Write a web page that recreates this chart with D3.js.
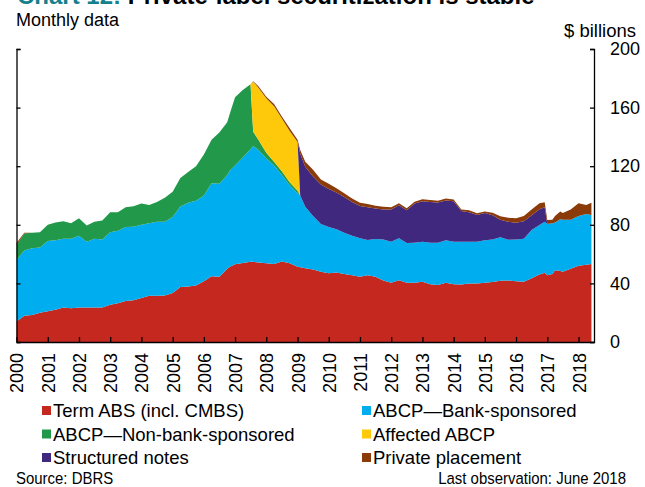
<!DOCTYPE html>
<html>
<head>
<meta charset="utf-8">
<script src="https://cdn.jsdelivr.net/npm/d3@7"></script>
<style>
  body { margin: 0; background: #fff; }
  text { font-family: "Liberation Sans", Arial, sans-serif; fill: #000; }
</style>
</head>
<body>
<svg id="chart" width="645" height="487"></svg>
<script>
// sample months (quarterly, plus the months where the series jump)
var months = [
  "2000-01","2000-04","2000-07","2000-10",
  "2001-01","2001-04","2001-07","2001-10",
  "2002-01","2002-04","2002-07","2002-10",
  "2003-01","2003-04","2003-07","2003-10",
  "2004-01","2004-04","2004-07","2004-10",
  "2005-01","2005-04","2005-07","2005-10",
  "2006-01","2006-04","2006-07","2006-10","2006-11",
  "2007-01","2007-04","2007-07","2007-08","2007-10",
  "2008-01","2008-04","2008-07","2008-10",
  "2009-01","2009-02","2009-04","2009-07","2009-10",
  "2010-01","2010-04","2010-07","2010-10",
  "2011-01","2011-04","2011-07","2011-10",
  "2012-01","2012-04","2012-07","2012-10",
  "2013-01","2013-04","2013-07","2013-10",
  "2014-01","2014-04","2014-07","2014-10",
  "2015-01","2015-04","2015-07","2015-10",
  "2016-01","2016-04","2016-07","2016-10","2016-12",
  "2017-01","2017-03","2017-04","2017-06","2017-07","2017-10",
  "2018-01","2018-04","2018-06"
];

// $ billions
var termABS = [
  14, 18, 18.5, 20,
  21, 22, 23.5, 23,
  23.5, 23.5, 23.5, 23.5,
  25.5, 26.5, 28, 28.5,
  30, 31.6, 31.5, 31.8,
  33.5, 37.5, 37.8, 38.5,
  41.5, 44.8, 44.5, 50, 51.4,
  53, 54, 54.7, 54.7, 54.3,
  53.7, 53.2, 55, 53.7,
  51.4, 51, 50.3, 49.5, 48,
  47, 47.5, 46.5, 45.5,
  44.6, 45.5, 44.5, 42,
  40.5, 42.2, 40.5, 40.5,
  41.2, 39.5, 38.9, 40.5,
  39.5, 39.3, 40, 40,
  40.5, 41, 41.8, 41.9,
  41.5, 41.2, 43.5, 46, 47.3,
  45.5, 46.5, 49, 48.5, 48, 50,
  52, 52.8, 53.2
];
var bankABCP = [
  42, 44.5, 45.5, 44.5,
  48, 47.5, 47, 47.5,
  49, 45, 47, 46.5,
  49.5, 49.5, 50.5, 50.2,
  50, 49.4, 50.5, 50.3,
  51.8, 55, 57.2, 58,
  58.5, 63.5, 63.5, 64, 65.6,
  67.5, 72, 76.8, 79.1, 76.7,
  71.6, 67.3, 59, 53.3,
  50.1, 49, 42.1, 36.5, 32.5,
  31.5, 29.5, 28, 27,
  26.2, 24.1, 25.8, 28,
  28, 28.6, 27.1, 27.3,
  27.3, 28.3, 28.9, 29,
  29, 29.2, 28.5, 28.5,
  29, 29, 29.7, 27.9,
  28.5, 29.3, 33, 33.9, 34.7,
  35, 34.5, 32.5, 35.3, 35.5, 33.5,
  34, 34.6, 33.5
];
var nonBankABCP = [
  10, 11.5, 10.5, 10.5,
  11, 12, 12, 10.5,
  12, 11, 11.5, 13,
  13.5, 12.5, 13.5, 14,
  14.5, 12.5, 13.5, 16.4,
  17.2, 19.5, 21, 23.5,
  28, 29.7, 35, 36, 39,
  46.5, 46, 44.5, 9.7, 7,
  3.9, 2.5, 2.5, 2,
  1.8, 0, 0, 0, 0,
  0, 0, 0, 0,
  0, 0, 0, 0,
  0, 0, 0, 0,
  0, 0, 0, 0,
  0, 0, 0, 0,
  0, 0, 0, 0,
  0, 0, 0, 0, 0,
  0, 0, 0, 0, 0, 0,
  0, 0, 0
];
var affectedABCP = [
  0, 0, 0, 0,
  0, 0, 0, 0,
  0, 0, 0, 0,
  0, 0, 0, 0,
  0, 0, 0, 0,
  0, 0, 0, 0,
  0, 0, 0, 0, 0,
  0, 0, 0, 34.2, 35.5,
  37.1, 38, 36, 35,
  33.2, 0, 0, 0, 0,
  0, 0, 0, 0,
  0, 0, 0, 0,
  0, 0, 0, 0,
  0, 0, 0, 0,
  0, 0, 0, 0,
  0, 0, 0, 0,
  0, 0, 0, 0, 0,
  0, 0, 0, 0, 0, 0,
  0, 0, 0
];
var structuredNotes = [
  0, 0, 0, 0,
  0, 0, 0, 0,
  0, 0, 0, 0,
  0, 0, 0, 0,
  0, 0, 0, 0,
  0, 0, 0, 0,
  0, 0, 0, 0, 0,
  0, 0, 0, 0, 0,
  0, 0, 0, 0,
  0, 28.5, 27.2, 27, 27,
  26, 25, 24.5, 23,
  22, 22.4, 20.9, 20.5,
  22, 22.6, 22.4, 26.7,
  27.5, 27.8, 27.4, 27.1,
  27.5, 21, 20, 18.2,
  18.5, 16.5, 12, 12.2,
  11.4, 12, 10, 10.7, 9.9,
  0, 0, 0, 0, 0, 0,
  0, 0, 0
];
var privatePlacement = [
  1.5, 0.5, 0, 0,
  0, 0, 0, 0,
  0, 0, 0, 0,
  0, 0, 0, 0,
  0, 0, 0, 0,
  0, 0, 0, 0,
  0, 0, 0, 0, 0,
  0, 0, 0, 0.3, 1,
  1.1, 1.5, 1.5, 1.9,
  1.5, 2.5, 3.4, 4.5, 3.5,
  3.5, 3, 2.5, 2.5,
  2.2, 2.2, 1.8, 1.8,
  1.5, 1.3, 1.3, 1.3,
  1.4, 1.3, 1.3, 1.4,
  1.2, 1, 1.5, 1.1,
  1, 1.7, 2.3, 2.8,
  3, 3.5, 4, 4.1, 3.5,
  2.8, 2.5, 4.5, 5.2, 4.5, 7,
  8.7, 6.1, 8.3
];

var seriesNames = ["Term ABS (incl. CMBS)", "ABCP\u2014Bank-sponsored", "ABCP\u2014Non-bank-sponsored",
                   "Affected ABCP", "Structured notes", "Private placement"];
var yTicks = [0, 40, 80, 120, 160, 200];

var keys = ["term", "bank", "nonbank", "affected", "notes", "priv"];
var colors = ["#c4281f", "#00aeef", "#22984a", "#ffc90b", "#41287f", "#8b3a09"];

var svg = d3.select("#chart");
var parseMonth = d3.timeParse("%Y-%m");

var rows = months.map(function(m, i) {
  return {
    date: parseMonth(m),
    term: termABS[i],
    bank: bankABCP[i],
    nonbank: nonBankABCP[i],
    affected: affectedABCP[i],
    notes: structuredNotes[i],
    priv: privatePlacement[i]
  };
});

var x = d3.scaleTime()
  .domain([new Date(2000, 0, 1), new Date(2018, 6, 1)])
  .range([16.5, 594]);
var y = d3.scaleLinear().domain([0, 200]).range([342, 49]);

var stacked = d3.stack().keys(keys)(rows);
var area = d3.area()
  .x(function(d) { return x(d.data.date); })
  .y0(function(d) { return y(d[0]); })
  .y1(function(d) { return y(d[1]); });

svg.append("g").selectAll("path")
  .data(stacked)
  .join("path")
  .attr("d", area)
  .attr("fill", function(d, i) { return colors[i]; });

// axes
var xAxis = d3.axisBottom(x)
  .tickValues(d3.timeYear.range(new Date(2000, 0, 1), new Date(2018, 1, 1)))
  .tickFormat(d3.timeFormat("%Y"))
  .tickSizeInner(-5)
  .tickSizeOuter(0);
var gx = svg.append("g").attr("transform", "translate(0,342)").call(xAxis);
gx.selectAll("text")
  .attr("transform", "rotate(-90)")
  .attr("x", -11)
  .attr("y", 0)
  .attr("dy", "0.36em")
  .style("text-anchor", "end")
  .style("font-size", "18px");

var gl = svg.append("g").attr("transform", "translate(16.5,0)")
  .call(d3.axisLeft(y).tickValues(yTicks).tickSizeInner(-4).tickSizeOuter(-4).tickFormat(""));

var gr = svg.append("g").attr("transform", "translate(594,0)")
  .call(d3.axisRight(y).tickValues(yTicks).tickSizeInner(-4).tickSizeOuter(-4).tickPadding(16));
gr.selectAll("text").style("font-size", "18px");

svg.selectAll(".domain, .tick line").attr("stroke", "#000").attr("stroke-width", 1.3);
svg.selectAll(".tick text").attr("fill", "#000").attr("font-family", null);

// titles
var title = svg.append("text").attr("x", 17).attr("y", 4)
  .style("font-size", "24px").style("font-weight", "bold");
title.append("tspan").style("fill", "#14808c").text("Chart 12: ");
title.append("tspan").text("Private-label securitization is stable");

svg.append("text").attr("x", 16).attr("y", 26).style("font-size", "18px").text("Monthly data");
svg.append("text").attr("x", 636).attr("y", 37).style("font-size", "18.5px")
  .style("text-anchor", "end").text("$ billions");

// legend
var legendItems = [0, 1, 2, 3, 4, 5].map(function(i) {
  return { name: seriesNames[i], color: colors[i], col: i % 2, row: Math.floor(i / 2) };
});
var lg = svg.append("g").selectAll("g").data(legendItems).join("g")
  .attr("transform", function(d) {
    return "translate(" + (d.col ? 362 : 42) + "," + (411 + d.row * 23.5) + ")";
  });
lg.append("rect").attr("x", 0).attr("y", -5).attr("width", 9).attr("height", 9)
  .attr("fill", function(d) { return d.color; });
lg.append("text").attr("x", 11).attr("y", 6).style("font-size", "18.5px")
  .text(function(d) { return d.name; });

// footnotes, condensed like the original's narrow face
svg.append("text").attr("transform", "translate(16,484) scale(0.88,1)")
  .style("font-size", "17px").text("Source: DBRS");
svg.append("text").attr("transform", "translate(626,484) scale(0.88,1)")
  .style("font-size", "17px")
  .style("text-anchor", "end").text("Last observation: June 2018");
</script>
</body>
</html>
